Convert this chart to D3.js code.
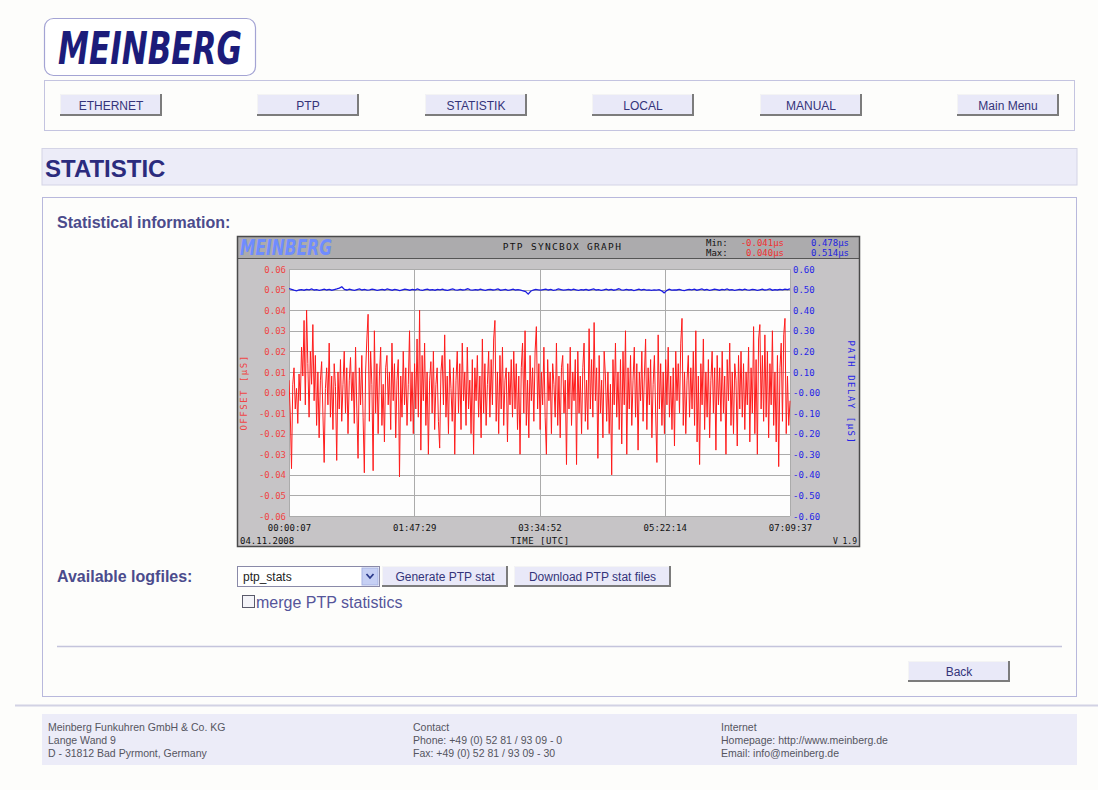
<!DOCTYPE html>
<html>
<head>
<meta charset="utf-8">
<script src="https://cdn.jsdelivr.net/npm/d3@7/dist/d3.min.js"></script>
<style>
html,body{margin:0;padding:0;background:#fdfdfb;}
svg{display:block;}
</style>
</head>
<body>
<svg id="page" width="1098" height="790"></svg>
<script>
// ---------------- DATA ----------------
const navButtons = ["ETHERNET", "PTP", "STATISTIK", "LOCAL", "MANUAL", "Main Menu"];
const navButtonX = [60, 257, 425, 592, 760, 957];

const timeTicks = [7, 6449, 12892, 19334, 25777];
const timeTickLabels = ["00:00:07", "01:47:29", "03:34:52", "05:22:14", "07:09:37"];

const offsetTicks = [0.06, 0.05, 0.04, 0.03, 0.02, 0.01, 0.00, -0.01, -0.02, -0.03, -0.04, -0.05, -0.06];
const offsetTickLabels = ["0.06", "0.05", "0.04", "0.03", "0.02", "0.01", "0.00", "-0.01", "-0.02", "-0.03", "-0.04", "-0.05", "-0.06"];
const delayTicks = [0.6, 0.5, 0.4, 0.3, 0.2, 0.1, 0.0, -0.1, -0.2, -0.3, -0.4, -0.5, -0.6];
const delayTickLabels = ["0.60", "0.50", "0.40", "0.30", "0.20", "0.10", "-0.00", "-0.10", "-0.20", "-0.30", "-0.40", "-0.50", "-0.60"];

// PTP offset [µs], sampled across the 00:00:07 .. 07:09:37 window
const offsetValues = [
  0.006, -0.010, -0.037, 0.004, 0.012, -0.008, 0.002, -0.015, 0.009, -0.004, 0.022, 0.008, 0.035, -0.006, 0.040, 0.014, -0.012, 0.020, 0.004, 0.033,
  -0.004, 0.018, -0.016, 0.010, -0.022, 0.006, 0.015, -0.010, -0.034, 0.002, 0.012, -0.006, 0.024, -0.012, 0.008, -0.018, 0.014, 0.003, -0.033, 0.010,
  -0.008, 0.016, -0.014, 0.004, 0.020, -0.010, 0.012, -0.020, 0.006, 0.017, -0.004, 0.010, -0.015, 0.022, -0.008, -0.032, 0.012, -0.006, 0.018, -0.012,
  -0.039, 0.010, 0.026, 0.038, -0.014, 0.020, 0.004, -0.038, 0.030, -0.010, 0.014, -0.020, 0.008, 0.022, -0.016, 0.004, -0.024, 0.012, 0.018, -0.006,
  0.010, -0.018, 0.024, -0.004, 0.014, -0.022, 0.006, 0.016, -0.041, 0.008, -0.012, 0.020, -0.006, 0.012, -0.016, 0.004, 0.030, -0.014, 0.010, -0.020,
  0.014, -0.008, 0.026, -0.012, 0.040, -0.028, 0.018, -0.004, 0.024, -0.016, 0.010, -0.030, 0.006, 0.015, -0.010, 0.020, -0.018, 0.004, 0.012, -0.014,
  -0.027, 0.010, 0.018, -0.006, 0.028, -0.012, 0.008, -0.020, 0.016, 0.002, -0.014, 0.012, -0.030, 0.006, 0.020, -0.010, 0.014, -0.018, 0.024, -0.004,
  0.010, -0.016, 0.022, -0.008, 0.006, -0.020, 0.016, -0.030, 0.012, -0.004, 0.018, -0.012, 0.008, -0.022, 0.026, -0.010, 0.014, -0.016, 0.004, 0.020,
  -0.012, 0.016, -0.006, 0.026, 0.035, -0.014, 0.010, -0.020, 0.018, -0.008, 0.022, -0.016, 0.006, 0.012, -0.024, 0.010, -0.006, 0.016, -0.012, 0.020,
  -0.008, 0.014, -0.018, 0.008, -0.030, 0.012, 0.024, -0.010, 0.030, -0.016, 0.006, -0.022, 0.018, -0.004, 0.012, -0.014, 0.020, 0.032, -0.008, 0.014,
  -0.018, 0.010, -0.006, 0.022, -0.012, -0.030, 0.016, -0.004, 0.010, -0.020, 0.014, 0.004, -0.012, 0.024, -0.016, 0.008, -0.022, 0.012, 0.018, -0.010,
  0.006, -0.035, 0.014, -0.008, 0.022, -0.016, 0.010, -0.004, 0.016, -0.035, 0.020, -0.010, 0.008, -0.020, 0.012, 0.024, -0.014, 0.006, -0.018, 0.031,
  -0.008, 0.016, -0.012, 0.034, -0.004, 0.012, -0.032, 0.018, -0.010, 0.006, -0.022, 0.020, 0.008, -0.014, 0.010, -0.020, 0.004, -0.040, 0.016, -0.006,
  0.024, -0.012, 0.010, -0.018, 0.016, -0.025, 0.020, -0.006, 0.030, -0.030, 0.012, -0.008, 0.018, -0.016, 0.006, 0.022, -0.012, 0.014, -0.028, 0.010,
  -0.004, 0.020, -0.014, 0.008, 0.026, -0.018, 0.012, -0.006, 0.016, -0.022, 0.004, 0.018, -0.010, -0.034, 0.028, -0.008, 0.014, -0.016, 0.010, -0.020,
  0.016, -0.006, 0.022, -0.012, 0.008, -0.018, 0.012, -0.026, 0.020, -0.004, 0.014, -0.010, 0.024, 0.036, -0.016, 0.010, -0.020, 0.006, 0.018, -0.012,
  0.012, -0.008, 0.020, -0.016, 0.030, -0.024, 0.008, -0.035, 0.014, -0.006, 0.026, -0.018, 0.010, -0.012, 0.016, -0.022, 0.006, 0.020, -0.010, 0.012,
  -0.028, 0.018, -0.006, 0.012, -0.014, 0.020, -0.010, 0.008, -0.030, 0.016, -0.004, 0.024, -0.016, 0.010, -0.020, 0.014, 0.006, -0.026, 0.018, -0.008,
  0.020, -0.012, 0.014, -0.018, 0.010, -0.006, 0.022, -0.024, 0.012, -0.010, 0.032, -0.020, 0.016, -0.030, 0.026, 0.033, -0.008, 0.018, -0.014, 0.028,
  -0.012, 0.020, -0.022, 0.014, -0.006, 0.030, -0.016, 0.010, -0.024, 0.018, -0.036, 0.012, 0.024, -0.014, 0.028, 0.036, -0.020, 0.008, -0.016, -0.004
];

// PTP path delay [µs]
const delayValues = [
  0.505, 0.501, 0.497, 0.494, 0.498, 0.500, 0.497, 0.501, 0.499, 0.503, 0.498, 0.500, 0.496, 0.499, 0.502, 0.498, 0.501, 0.497, 0.500, 0.503,
  0.507, 0.514, 0.501, 0.498, 0.502, 0.499, 0.496, 0.500, 0.503, 0.498, 0.501, 0.497, 0.499, 0.502, 0.500, 0.496, 0.499, 0.501, 0.498, 0.503,
  0.500, 0.497, 0.501, 0.499, 0.495, 0.499, 0.502, 0.500, 0.497, 0.501, 0.498, 0.503, 0.499, 0.496, 0.500, 0.502, 0.498, 0.500, 0.497, 0.501,
  0.499, 0.502, 0.498, 0.496, 0.500, 0.503, 0.499, 0.497, 0.501, 0.498, 0.500, 0.504, 0.499, 0.497, 0.500, 0.498, 0.502, 0.499, 0.496, 0.500,
  0.501, 0.498, 0.500, 0.503, 0.497, 0.499, 0.501, 0.496, 0.499, 0.502, 0.498, 0.500, 0.497, 0.494, 0.490, 0.478, 0.492, 0.498, 0.501, 0.499,
  0.497, 0.500, 0.502, 0.498, 0.501, 0.496, 0.499, 0.503, 0.500, 0.497, 0.499, 0.501, 0.498, 0.502, 0.499, 0.496, 0.500, 0.498, 0.501, 0.497,
  0.500, 0.503, 0.498, 0.500, 0.496, 0.499, 0.502, 0.498, 0.501, 0.497, 0.500, 0.504, 0.499, 0.497, 0.501, 0.498, 0.500, 0.495, 0.499, 0.502,
  0.498, 0.501, 0.497, 0.499, 0.496, 0.499, 0.497, 0.500, 0.494, 0.484, 0.495, 0.502, 0.497, 0.499, 0.498, 0.501, 0.497, 0.495, 0.499, 0.501,
  0.499, 0.502, 0.497, 0.500, 0.503, 0.498, 0.501, 0.496, 0.499, 0.502, 0.500, 0.497, 0.501, 0.499, 0.503, 0.498, 0.500, 0.496, 0.499, 0.501,
  0.498, 0.502, 0.499, 0.497, 0.501, 0.500, 0.496, 0.499, 0.502, 0.498, 0.500, 0.503, 0.497, 0.500, 0.498, 0.501, 0.499, 0.502, 0.500, 0.503
];

const footerCols = [
  ["Meinberg Funkuhren GmbH & Co. KG", "Lange Wand 9", "D - 31812 Bad Pyrmont, Germany"],
  ["Contact", "Phone: +49 (0) 52 81 / 93 09 - 0", "Fax: +49 (0) 52 81 / 93 09 - 30"],
  ["Internet", "Homepage: http://www.meinberg.de", "Email: info@meinberg.de"]
];
const footerColX = [48, 413, 721];

// ---------------- DRAW ----------------
const svg = d3.select("#page");
const SANS = "Arial, 'Liberation Sans', sans-serif";
const MONO = "'DejaVu Sans Mono', monospace";
const navy = "#2b2b7d";

svg.append("rect").attr("width", 1098).attr("height", 790).attr("fill", "#fdfdfb");

// Logo box
svg.append("rect").attr("x", 44.5).attr("y", 18.5).attr("width", 211).attr("height", 57).attr("rx", 9)
  .attr("fill", "#ffffff").attr("stroke", "#a4a4d4").attr("stroke-width", 1.2);
svg.append("text").attr("x", 58).attr("y", 64).text("MEINBERG")
  .attr("font-family", "'DejaVu Sans', sans-serif").attr("font-weight", "bold").attr("font-style", "italic")
  .attr("font-size", 45).attr("textLength", 184).attr("lengthAdjust", "spacingAndGlyphs").attr("fill", "#1c1c7a");

function button(x, y, w, h, label, fs) {
  const g = svg.append("g");
  g.append("rect").attr("x", x).attr("y", y).attr("width", w).attr("height", h).attr("fill", "#e9e9f8");
  g.append("path").attr("d", `M${x + 0.5},${y + h} V${y + 0.5} H${x + w}`).attr("stroke", "#f4f4f4").attr("fill", "none");
  g.append("path").attr("d", `M${x},${y + h - 1} H${x + w - 1} V${y}`).attr("stroke", "#7c7c7c").attr("stroke-width", 2).attr("fill", "none");
  g.append("text").attr("x", x + w / 2).attr("y", y + h / 2 + 4.5).attr("text-anchor", "middle")
    .attr("font-family", SANS).attr("font-size", fs || 12).attr("fill", "#34347a").text(label);
}

// Nav box
svg.append("rect").attr("x", 44.5).attr("y", 80.5).attr("width", 1030).attr("height", 50)
  .attr("fill", "#fdfdfb").attr("stroke", "#c4c4e0");
navButtons.forEach((b, i) => button(navButtonX[i], 94, 102, 22, b));

// STATISTIC band
svg.append("rect").attr("x", 42).attr("y", 148.5).attr("width", 1035).attr("height", 36.5)
  .attr("fill", "#ececf8").attr("stroke", "#d4d4e6");
svg.append("text").attr("x", 45).attr("y", 176.5).text("STATISTIC")
  .attr("font-family", SANS).attr("font-weight", "bold").attr("font-size", 24).attr("fill", navy);

// Main content box
svg.append("rect").attr("x", 42.5).attr("y", 197.5).attr("width", 1034).attr("height", 499)
  .attr("fill", "#fdfdfb").attr("stroke", "#b8b8dc");
svg.append("text").attr("x", 57).attr("y", 228).text("Statistical information:")
  .attr("font-family", SANS).attr("font-weight", "bold").attr("font-size", 16).attr("fill", "#4b4b8c");

// ---------------- CHART ----------------
const C = { x0: 237, y0: 236, x1: 860, y1: 547 };
const P = { left: 289, right: 790, top: 269, bottom: 516 };
const chart = svg.append("g");
chart.append("rect").attr("x", C.x0).attr("y", C.y0).attr("width", C.x1 - C.x0).attr("height", C.y1 - C.y0)
  .attr("fill", "#c6c4c6");
chart.append("rect").attr("x", C.x0).attr("y", C.y0).attr("width", C.x1 - C.x0).attr("height", 22)
  .attr("fill", "#acabad");
chart.append("line").attr("x1", C.x0).attr("x2", C.x1).attr("y1", 258.5).attr("y2", 258.5).attr("stroke", "#555");
chart.append("rect").attr("x", C.x0 + 0.5).attr("y", C.y0 + 0.5).attr("width", C.x1 - C.x0 - 1).attr("height", C.y1 - C.y0 - 1)
  .attr("fill", "none").attr("stroke", "#4a4a4a").attr("stroke-width", 1.5);

// header contents
chart.append("text").attr("x", 240).attr("y", 255).text("MEINBERG")
  .attr("font-family", "'DejaVu Sans', sans-serif").attr("font-weight", "bold").attr("font-style", "italic")
  .attr("font-size", 22).attr("textLength", 92).attr("lengthAdjust", "spacingAndGlyphs").attr("fill", "#6f8cff");
chart.append("text").attr("x", 562.5).attr("y", 250).attr("text-anchor", "middle").text("PTP SYNCBOX GRAPH")
  .attr("font-family", MONO).attr("font-size", 9.5).attr("letter-spacing", 1.3).attr("fill", "#111");
const hdr = [
  { x: 706, y: 246, t: "Min:", c: "#111", a: "start" },
  { x: 706, y: 256, t: "Max:", c: "#111", a: "start" },
  { x: 784, y: 246, t: "-0.041µs", c: "#f03030", a: "end" },
  { x: 784, y: 256, t: "0.040µs", c: "#f03030", a: "end" },
  { x: 849, y: 246, t: "0.478µs", c: "#2323e0", a: "end" },
  { x: 849, y: 256, t: "0.514µs", c: "#2323e0", a: "end" }
];
hdr.forEach(d => chart.append("text").attr("x", d.x).attr("y", d.y).attr("text-anchor", d.a).text(d.t)
  .attr("font-family", MONO).attr("font-size", 9).attr("fill", d.c));

// scales
const x = d3.scaleLinear().domain([timeTicks[0], timeTicks[timeTicks.length - 1]]).range([P.left, P.right]);
const yOff = d3.scaleLinear().domain([-0.06, 0.06]).range([P.bottom, P.top]);
const yDel = d3.scaleLinear().domain([-0.6, 0.6]).range([P.bottom, P.top]);

chart.append("rect").attr("x", P.left).attr("y", P.top).attr("width", P.right - P.left).attr("height", P.bottom - P.top)
  .attr("fill", "#fdfdfd");

// grid
chart.append("g").selectAll("line").data(offsetTicks).join("line")
  .attr("x1", P.left).attr("x2", P.right)
  .attr("y1", d => Math.round(yOff(d)) + 0.5).attr("y2", d => Math.round(yOff(d)) + 0.5)
  .attr("stroke", "#ababab");
chart.append("g").selectAll("line").data(timeTicks).join("line")
  .attr("x1", d => Math.round(x(d)) + 0.5).attr("x2", d => Math.round(x(d)) + 0.5)
  .attr("y1", P.top).attr("y2", P.bottom)
  .attr("stroke", "#ababab");

// left axis
const leftAxis = d3.axisLeft(yOff).tickValues(offsetTicks).tickSize(0).tickPadding(2)
  .tickFormat((d, i) => offsetTickLabels[i]);
const gl = chart.append("g").attr("transform", `translate(${P.left - 1},0)`).call(leftAxis);
gl.select(".domain").remove();
gl.selectAll("text").attr("font-family", MONO).attr("font-size", 9).attr("fill", "#f04545").attr("dy", "0.35em");

// right axis
const rightAxis = d3.axisRight(yDel).tickValues(delayTicks).tickSize(0).tickPadding(3)
  .tickFormat((d, i) => delayTickLabels[i]);
const gr = chart.append("g").attr("transform", `translate(${P.right},0)`).call(rightAxis);
gr.select(".domain").remove();
gr.selectAll("text").attr("font-family", MONO).attr("font-size", 9).attr("fill", "#2626e6").attr("dy", "0.35em");

// bottom axis
const bottomAxis = d3.axisBottom(x).tickValues(timeTicks).tickSize(0).tickPadding(9)
  .tickFormat((d, i) => timeTickLabels[i]);
const gb = chart.append("g").attr("transform", `translate(0,${P.bottom})`).call(bottomAxis);
gb.select(".domain").remove();
gb.selectAll("text").attr("font-family", MONO).attr("font-size", 9).attr("fill", "#111");

// axis titles
chart.append("text").attr("transform", `translate(247,${(P.top + P.bottom) / 2}) rotate(-90)`)
  .attr("text-anchor", "middle").text("OFFSET [µS]")
  .attr("font-family", MONO).attr("font-size", 9).attr("letter-spacing", 1.5).attr("fill", "#f04545");
chart.append("text").attr("transform", `translate(848,${(P.top + P.bottom) / 2}) rotate(90)`)
  .attr("text-anchor", "middle").text("PATH DELAY [µS]")
  .attr("font-family", MONO).attr("font-size", 9).attr("letter-spacing", 1.5).attr("fill", "#2626e6");
chart.append("text").attr("x", 240).attr("y", 544).text("04.11.2008")
  .attr("font-family", MONO).attr("font-size", 9).attr("fill", "#111");
chart.append("text").attr("x", 540).attr("y", 544).attr("text-anchor", "middle").text("TIME [UTC]")
  .attr("font-family", MONO).attr("font-size", 9).attr("letter-spacing", 0.5).attr("fill", "#111");
chart.append("text").attr("x", 857).attr("y", 544).attr("text-anchor", "end").text("V 1.9")
  .attr("font-family", MONO).attr("font-size", 8).attr("fill", "#111");

// series
const xi = n => d3.scaleLinear().domain([0, n - 1]).range([x(timeTicks[0]), x(timeTicks[timeTicks.length - 1])]);
const xo = xi(offsetValues.length), xd = xi(delayValues.length);
chart.append("clipPath").attr("id", "plotclip").append("rect")
  .attr("x", P.left).attr("y", P.top).attr("width", P.right - P.left + 1).attr("height", P.bottom - P.top);
chart.append("path").datum(offsetValues)
  .attr("d", d3.line().x((d, i) => xo(i)).y(d => yOff(d)))
  .attr("fill", "none").attr("stroke", "#ff1c1c").attr("stroke-width", 1).attr("clip-path", "url(#plotclip)");
chart.append("path").datum(delayValues)
  .attr("d", d3.line().x((d, i) => xd(i)).y(d => yDel(d)))
  .attr("fill", "none").attr("stroke", "#1c1ce0").attr("stroke-width", 1.3).attr("clip-path", "url(#plotclip)");

// ---------------- FORM ----------------
svg.append("text").attr("x", 57).attr("y", 582).text("Available logfiles:")
  .attr("font-family", SANS).attr("font-weight", "bold").attr("font-size", 16).attr("fill", "#4b4b8c");
// select
svg.append("rect").attr("x", 237.5).attr("y", 566.5).attr("width", 142).attr("height", 20)
  .attr("fill", "#ffffff").attr("stroke", "#8a8aa8");
svg.append("text").attr("x", 243).attr("y", 581).text("ptp_stats")
  .attr("font-family", SANS).attr("font-size", 12).attr("fill", "#222");
svg.append("rect").attr("x", 362).attr("y", 568).attr("width", 16).attr("height", 17)
  .attr("fill", "#c6d0f4").attr("stroke", "#a8b4e4");
svg.append("path").attr("d", "M366.5,574 L370,578 L373.5,574").attr("fill", "none")
  .attr("stroke", "#2b3a8a").attr("stroke-width", 1.8);
button(382, 566, 126, 21, "Generate PTP stat");
button(514, 566, 157, 21, "Download PTP stat files");
// checkbox
svg.append("rect").attr("x", 242.5).attr("y", 595.5).attr("width", 12).attr("height", 12)
  .attr("fill", "#f4f4f8").attr("stroke", "#5a5a6a");
svg.append("text").attr("x", 256).attr("y", 608).text("merge PTP statistics")
  .attr("font-family", SANS).attr("font-size", 16).attr("fill", "#55559a");

svg.append("line").attr("x1", 57).attr("x2", 1062).attr("y1", 646.5).attr("y2", 646.5).attr("stroke", "#c4c4dc").attr("stroke-width", 1.3);
button(908, 661, 102, 21, "Back");

// ---------------- FOOTER ----------------
svg.append("line").attr("x1", 15).attr("x2", 1098).attr("y1", 705.5).attr("y2", 705.5).attr("stroke", "#d2d2e4").attr("stroke-width", 2);
svg.append("rect").attr("x", 42).attr("y", 714).attr("width", 1035).attr("height", 51).attr("fill", "#ececf8");
footerCols.forEach((col, ci) => col.forEach((t, li) =>
  svg.append("text").attr("x", footerColX[ci]).attr("y", 731 + li * 13).text(t)
    .attr("font-family", SANS).attr("font-size", 10.5).attr("fill", "#555560")));
</script>
</body>
</html>
